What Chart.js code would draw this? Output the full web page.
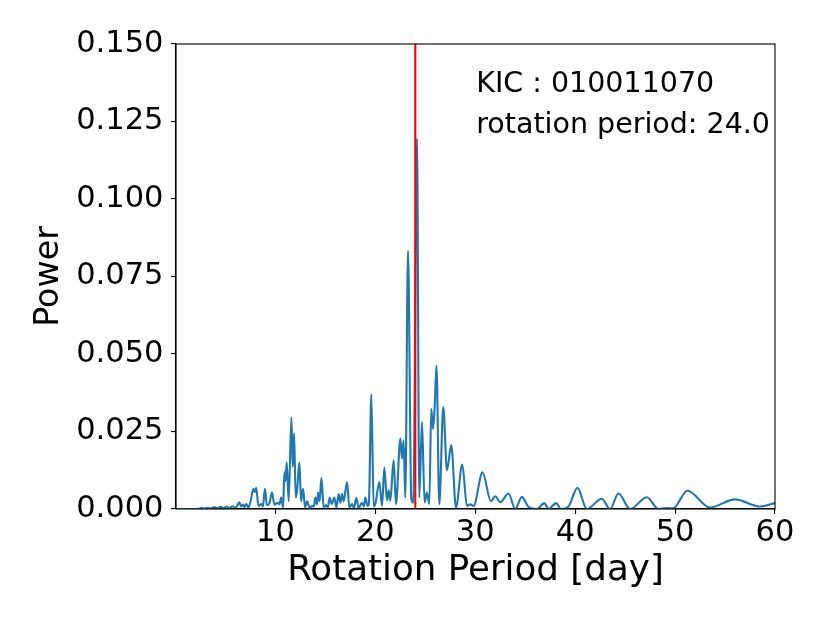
<!DOCTYPE html>
<html>
<head>
<meta charset="utf-8">
<title>Rotation period periodogram</title>
<script src="https://cdn.jsdelivr.net/npm/chart.js@4.4.0/dist/chart.umd.min.js"></script>
<style>
  body { margin: 0; background: #fff; }
  #wrap { width: 830px; height: 623px; }
</style>
</head>
<body>
<div id="wrap"><canvas id="chart" width="830" height="623"></canvas></div>
<script>
// periodogram
const periods = [
  0.05, 1.5, 2.4, 2.6, 2.8, 3.2, 3.5, 3.9, 4.2, 4.5, 4.8, 5.1, 5.4, 5.7, 6.0,
  6.2, 6.4, 6.55, 6.75, 6.9, 7.07, 7.3, 7.55, 7.8, 7.95, 8.08, 8.3, 8.6, 8.75, 8.95,
  9.15, 9.4, 9.66, 9.9, 10.2, 10.4, 10.57, 10.77, 10.9, 11.0, 11.13, 11.33, 11.6, 11.73, 11.87,
  12.03, 12.17, 12.4, 12.57, 12.77, 12.97, 13.17, 13.43, 13.67, 13.85, 14.0, 14.15, 14.27, 14.43, 14.6,
  14.83, 15.07, 15.25, 15.43, 15.63, 15.9, 16.1, 16.33, 16.5, 16.67, 16.83, 17.17, 17.4, 17.67, 17.85,
  18.1, 18.33, 18.67, 18.85, 19.0, 19.23, 19.35, 19.6, 19.83, 20.0, 20.4, 20.67, 20.9, 21.17, 21.33,
  21.5, 21.83, 22.07, 22.5, 22.67, 22.83, 23.0, 23.27, 23.6, 23.8, 24.17, 24.4, 24.67, 24.93, 25.17,
  25.4, 25.6, 25.77, 25.93, 26.12, 26.4, 26.8, 27.17, 27.6, 28.07, 28.7, 29.17, 29.5, 29.83, 30.73,
  31.57, 32.0, 32.5, 33.33, 34.0, 34.67, 35.3, 36.17, 36.93, 37.33, 38.1, 38.57, 39.33, 40.23, 41.17,
  42.67, 43.5, 44.33, 45.5, 47.17, 48.33, 49.17, 49.8, 51.23, 53.5, 56.0, 58.5, 60.0
];
const power = [
  0, 0, 0.0001, 0.0004, 0.0001, 0.0003, 0.0002, 0.0006, 0.0002, 0.0007, 0.0003, 0.0008, 0.0003, 0.0009, 0.0004,
  0.0012, 0.0022, 0.0008, 0.0014, 0.0006, 0.0016, 0.0005, 0.003, 0.0065, 0.0055, 0.0068, 0.001, 0.0016, 0.0008, 0.0065,
  0.0012, 0.0018, 0.0054, 0.0014, 0.002, 0.0015, 0.0037, 0.0005, 0.0118, 0.009, 0.0151, 0.0025, 0.0296, 0.0136, 0.0243,
  0.0037, 0.006, 0.0151, 0.0025, 0.0065, 0.0005, 0.0025, 0.0003, 0.001, 0.0008, 0.0037, 0.0015, 0.0053, 0.0025, 0.0101,
  0.0005, 0.0013, 0.0005, 0.0037, 0.0016, 0.0037, 0.0005, 0.0048, 0.002, 0.0048, 0.0025, 0.0087, 0.0005, 0.0016, 0.0004,
  0.0035, 0.0003, 0.002, 0.0008, 0.0037, 0.001, 0.0015, 0.037, 0.0008, 0.0016, 0.0087, 0.001, 0.0134, 0.0027, 0.006,
  0.0027, 0.0157, 0.0016, 0.0227, 0.0162, 0.0222, 0.0037, 0.0832, 0.0033, 0.002, 0.1195, 0.0037, 0.0281, 0.0021, 0.0053,
  0.0016, 0.0323, 0.0258, 0.0323, 0.0463, 0.0016, 0.0329, 0.0125, 0.0206, 0.0005, 0.0143, 0.001, 0.0015, 0.001, 0.0118,
  0.0025, 0.0041, 0.0022, 0.005, 0, 0.0039, 0.0008, 0, 0.0019, 0, 0.0019, 0, 0.0008, 0.0068, 0,
  0.0033, 0, 0.005, 0, 0.0038, 0, 0.0003, 0.0002, 0.0059, 0.0005, 0.0031, 0.0008, 0.0019
];

const rotationPeriod = 24.0;
const kicLabel = "KIC : 010011070";
const periodLabel = "rotation period: " + rotationPeriod.toFixed(1);

const xTicks = [10, 20, 30, 40, 50, 60];
const yTicks = [0, 0.025, 0.05, 0.075, 0.1, 0.125, 0.15];

Chart.defaults.font.family = "'DejaVu Sans', sans-serif";
Chart.defaults.color = "#000";

// box round the plot, like matplotlib's spines
const framePlugin = {
  id: "frame",
  afterDatasetsDraw(chart) {
    const { ctx, chartArea } = chart;
    ctx.save();
    ctx.strokeStyle = "#000";
    ctx.lineWidth = 1.1;
    ctx.strokeRect(chartArea.left, chartArea.top, chartArea.right - chartArea.left, chartArea.bottom - chartArea.top);
    ctx.restore();
  },
};

// the two lines of text in the upper right
const notePlugin = {
  id: "note",
  afterDraw(chart) {
    const { ctx, scales } = chart;
    const x = scales.x.getPixelForValue(30.1);
    ctx.save();
    ctx.fillStyle = "#000";
    ctx.font = "28.5px 'DejaVu Sans', sans-serif";
    ctx.textBaseline = "alphabetic";
    ctx.fillText(kicLabel, x, scales.y.getPixelForValue(0.1346));
    ctx.fillText(periodLabel, x, scales.y.getPixelForValue(0.1213));
    ctx.restore();
  },
};

const tickGrid = {
  display: true,
  drawOnChartArea: false,
  drawTicks: true,
  tickLength: 5,
  color: "#000",
  lineWidth: 1.1,
};

new Chart(document.getElementById("chart"), {
  type: "line",
  data: {
    datasets: [
      {
        label: "rotation period",
        data: [
          { x: rotationPeriod, y: 0 },
          { x: rotationPeriod, y: 0.15 },
        ],
        borderColor: "#ff0000",
        borderWidth: 2.1,
        pointRadius: 0,
      },
      {
        label: "power",
        data: periods.map((p, i) => ({ x: p, y: power[i] })),
        borderColor: "#1f77b4",
        borderWidth: 2.1,
        pointRadius: 0,
        cubicInterpolationMode: "monotone",
      },
    ],
  },
  options: {
    responsive: false,
    animation: false,
    devicePixelRatio: 1,
    layout: {
      padding: { top: 44, right: 55, bottom: 0, left: 0 },
    },
    plugins: {
      legend: { display: false },
      tooltip: { enabled: false },
    },
    scales: {
      x: {
        type: "linear",
        min: 0.05,
        max: 60,
        afterBuildTicks: (scale) => {
          scale.ticks = xTicks.map((v) => ({ value: v }));
        },
        afterFit: (scale) => {
          scale.height = 114;
        },
        ticks: {
          font: { size: 30.5 },
          padding: 1,
          maxRotation: 0,
          autoSkip: false,
        },
        grid: tickGrid,
        border: { display: true, color: "#000", width: 1.1 },
        title: {
          display: true,
          text: "Rotation Period [day]",
          font: { size: 35.7 },
          padding: { top: 0, bottom: 31 },
        },
      },
      y: {
        min: 0,
        max: 0.15,
        afterBuildTicks: (scale) => {
          scale.ticks = yTicks.map((v) => ({ value: v }));
        },
        afterFit: (scale) => {
          scale.width = 176;
        },
        ticks: {
          font: { size: 30.5 },
          padding: 7.5,
          autoSkip: false,
          callback: (value) => value.toFixed(3),
        },
        grid: tickGrid,
        border: { display: true, color: "#000", width: 1.1 },
        title: {
          display: true,
          text: "Power",
          font: { size: 33.3 },
          padding: { top: 29, bottom: 0 },
        },
      },
    },
  },
  plugins: [framePlugin, notePlugin],
});
</script>
</body>
</html>
